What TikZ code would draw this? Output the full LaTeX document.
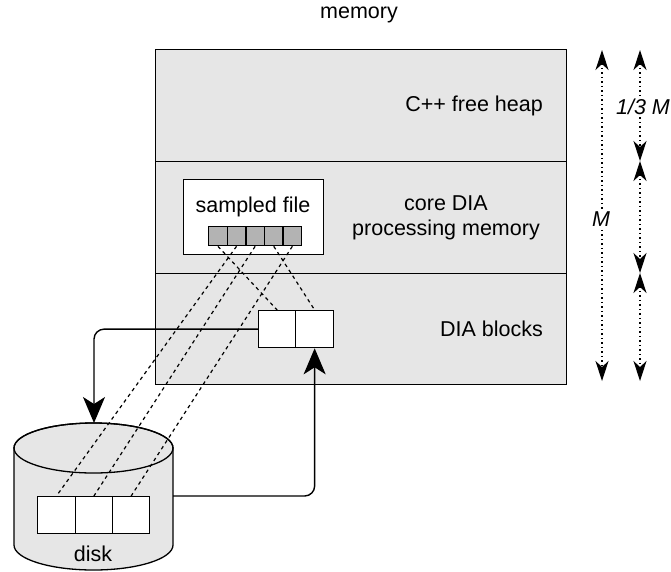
\documentclass[tikz,border=0pt]{standalone}
\usepackage{fontspec}
\setmainfont{Liberation Sans}
\usetikzlibrary{arrows.meta}
\definecolor{boxgray}{HTML}{E6E6E6}
\definecolor{cellgray}{HTML}{B3B3B3}
\begin{document}
\begin{tikzpicture}[x=1pt,y=-1pt,
  every node/.style={font=\fontsize{21.5}{25}\selectfont, inner sep=0pt},
  region/.style={draw, fill=boxgray, line width=1.3pt, minimum width=411pt, minimum height=112pt, anchor=north west},
  cellbox/.style={draw, fill=white, line width=1.3pt, anchor=north west, minimum height=37pt},
  graycell/.style={draw, fill=cellgray, line width=1.3pt, anchor=north west, minimum width=18.6pt, minimum height=19pt},
  tipA/.tip={Stealth[length=26pt,width=22pt,inset=7pt]},
  tipB/.tip={Stealth[length=20pt,width=13pt,inset=6pt]},
  conn/.style={draw, line width=1.4pt, -tipA},
  link/.style={draw, line width=1.2pt, dash pattern=on 3.5pt off 3.5pt},
  dim/.style={draw, line width=1.2pt, dash pattern=on 1.3pt off 3.2pt, tipB-tipB},
  lbl/.style={fill=white, inner sep=2pt, font=\fontsize{21.5}{25}\selectfont\itshape}
]
\useasboundingbox (0,0) rectangle (671,571);

% title
\node (title) at (359,15) {memory};

% memory regions
\node[region] (heap) at (155,49) {};
\node[region] (core) at (155,161) {};
\node[region, minimum height=111pt] (blocks) at (155,273) {};

\node[anchor=east] (heaplbl) at (543,106) {C++ free heap};
\node[align=center] (corelbl) at (446,218) {core DIA\\processing memory};
\node[anchor=east] (blockslbl) at (543,329) {DIA blocks};

% sampled file
\node[draw, fill=white, line width=1.3pt, anchor=north west, minimum width=140pt, minimum height=75pt] (sampled) at (183,179) {};
\node (sampledlbl) at (253,207) {sampled file};
\node[graycell] (c1) at (208,226) {};
\node[graycell] (c2) at (226.6,226) {};
\node[graycell] (c3) at (245.2,226) {};
\node[graycell] (c4) at (263.8,226) {};
\node[graycell] (c5) at (282.4,226) {};

% DIA blocks cells
\node[cellbox, minimum width=37pt] (d1) at (258,310) {};
\node[cellbox, minimum width=38pt] (d2) at (295,310) {};

% disk
\draw[line width=1.3pt, fill=boxgray] (14,448) -- (14,545) arc[start angle=180, end angle=360, x radius=79.5pt, y radius=25pt] -- (173,448) arc[start angle=0, end angle=180, x radius=79.5pt, y radius=25pt] -- cycle;
\draw[line width=1.3pt] (93.5,448) ellipse[x radius=79.5pt, y radius=25pt];
\coordinate (disktop) at (94,423);
\coordinate (diskright) at (173,496);
\node[cellbox, minimum width=37.5pt] (k1) at (37,496) {};
\node[cellbox, minimum width=37.5pt] (k2) at (74.5,496) {};
\node[cellbox, minimum width=37pt] (k3) at (112,496) {};
\node (disklbl) at (93,554) {disk};

% solid connectors
\draw[conn] (d1.west) [rounded corners=10pt] -| (disktop);
\draw[conn] (diskright) [rounded corners=10pt] -| (d2.south);

% dashed links
\draw[link] (c1.south) -- (d1.north);
\draw[link] (c4.south) -- (d2.north);
\draw[link] (c2.south) -- (k1.north);
\draw[link] (c3.south) -- (k2.north);
\draw[link] (c5.south) -- (k3.north);

% dimensions
\coordinate (mtop) at (602,50);
\coordinate (mbot) at (602,381);
\draw[dim] (mtop) -- (mbot);
\node[lbl] (mlbl) at (601,219) {M};

\coordinate (t0) at (640,50);
\coordinate (t1) at (640,161);
\coordinate (t2) at (640,273);
\coordinate (t3) at (640,381);
\draw[dim] (t0) -- (t1);
\draw[dim] (t1) -- (t2);
\draw[dim] (t2) -- (t3);
\node[lbl] (tlbl) at (643,107) {1/3 M};
\end{tikzpicture}
\end{document}
